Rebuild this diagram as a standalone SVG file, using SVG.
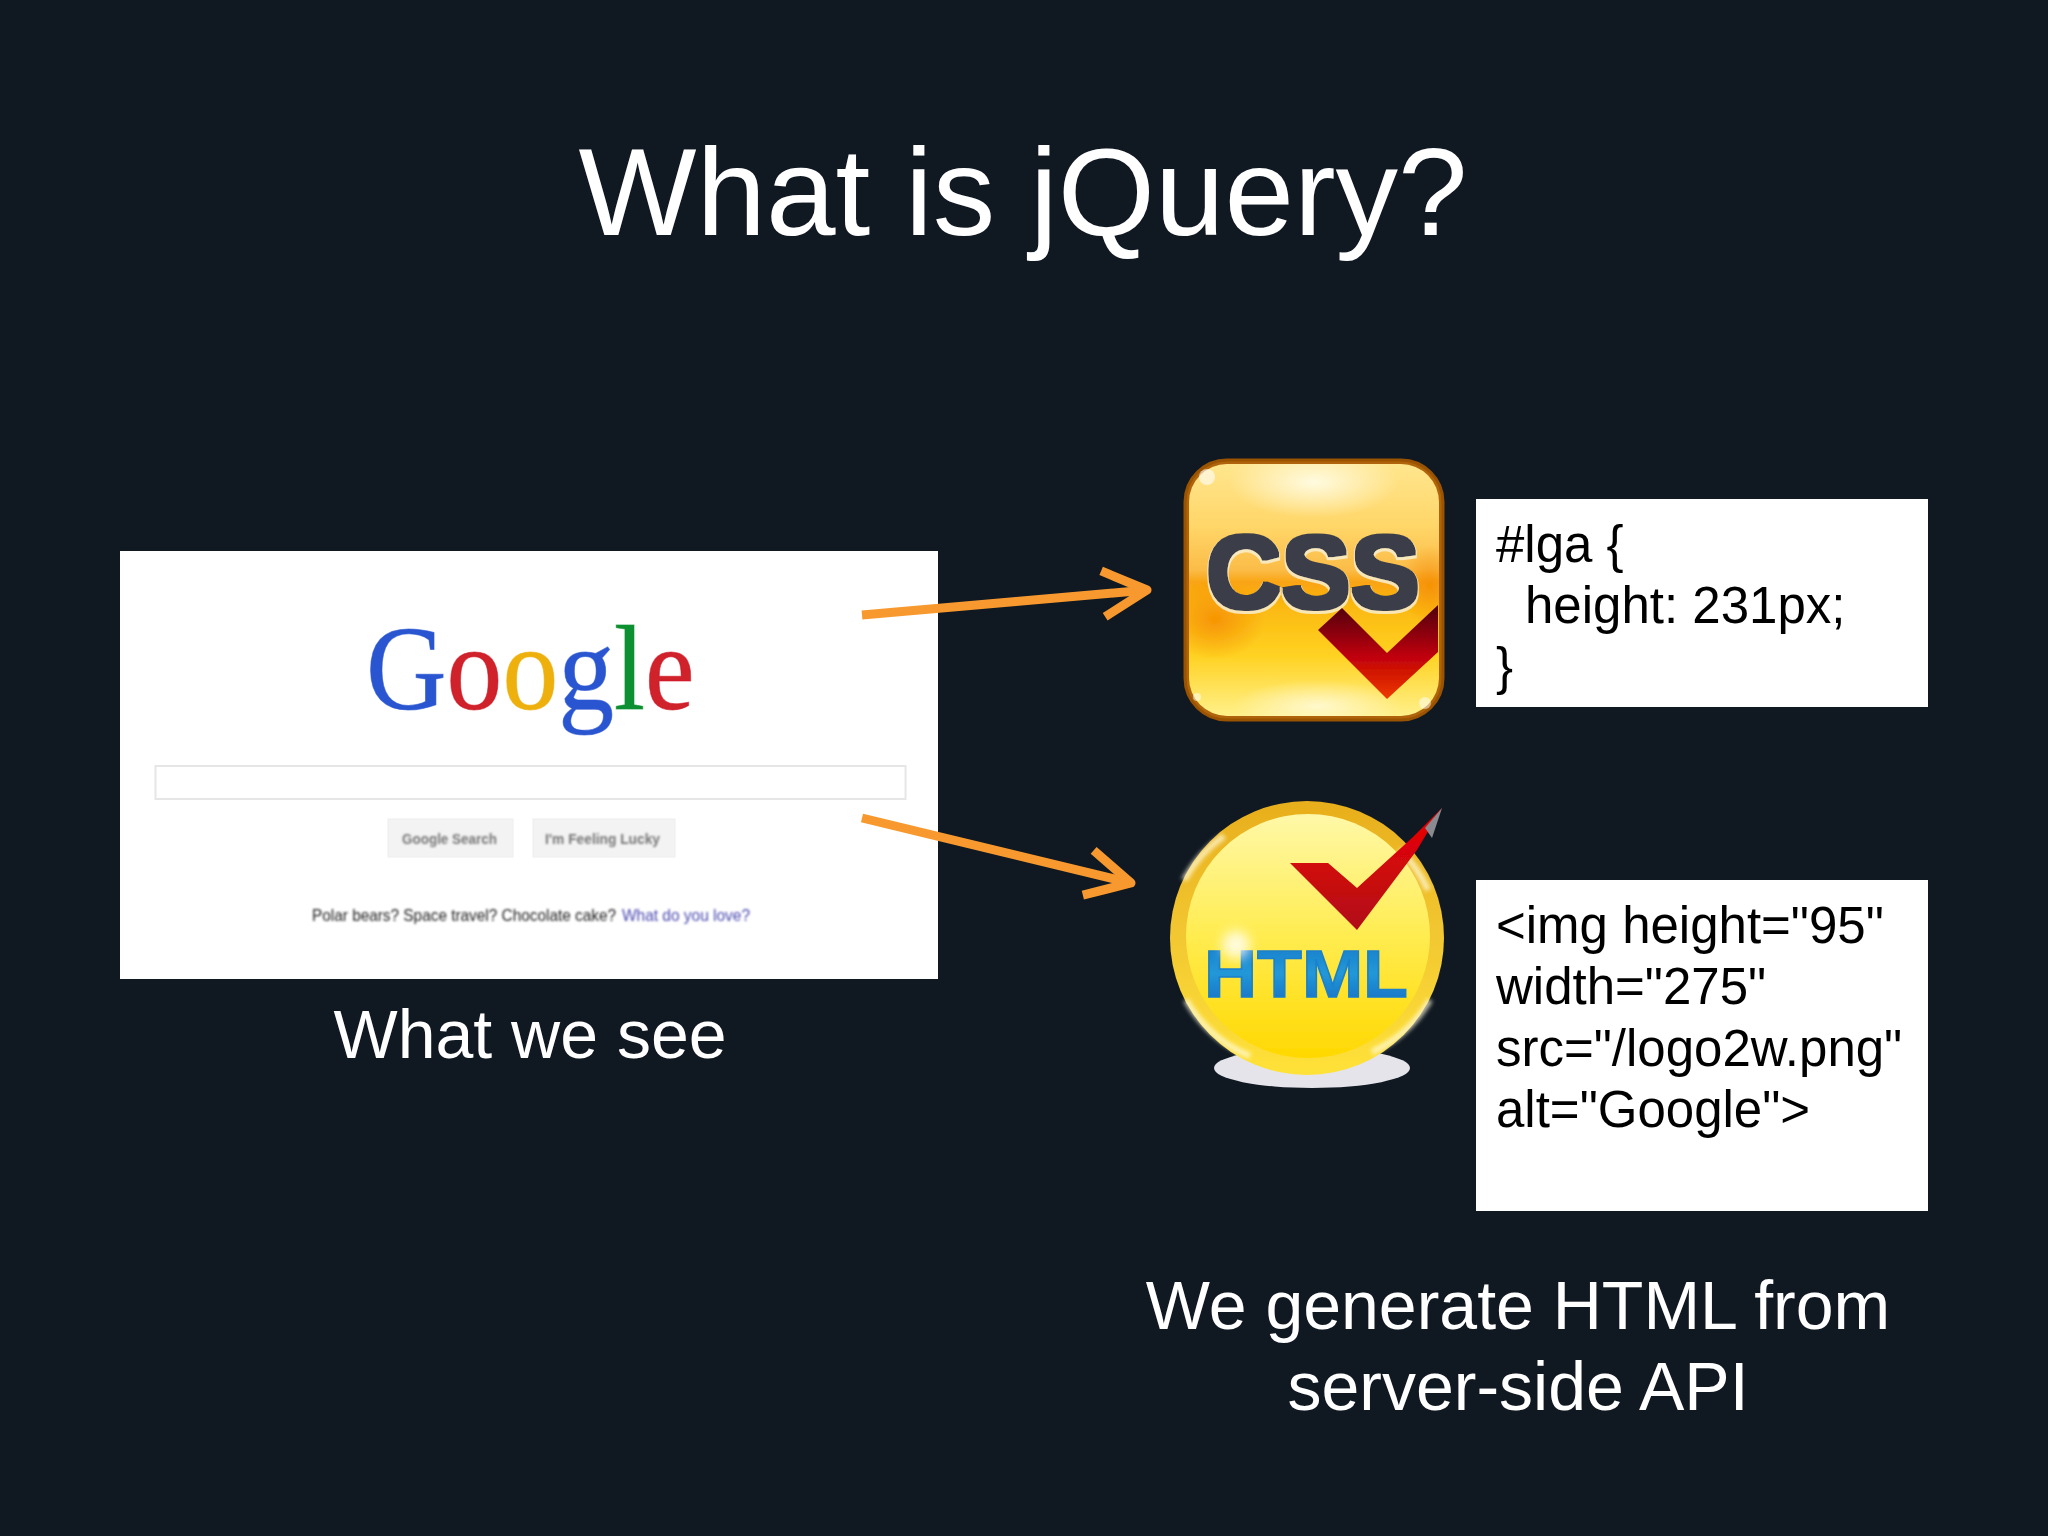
<svg xmlns="http://www.w3.org/2000/svg" width="2048" height="1536" viewBox="0 0 2048 1536">
<style>
text{font-family:"Liberation Sans",Arial,sans-serif}
.t{fill:#fff}
.big{font-size:68px;text-anchor:middle}
.code{font-size:51px;fill:#000}
.arrow{fill:none;stroke:#f7992e;stroke-width:9}
.btn{fill:#f3f3f3;stroke:#eeeeee}
.btnt{font-size:15px;fill:#777;font-weight:bold}
</style>
<defs>
<filter id="b1" x="-5%" y="-5%" width="110%" height="110%"><feGaussianBlur stdDeviation="0.7"/></filter>
<filter id="b2" x="-5%" y="-20%" width="110%" height="140%"><feGaussianBlur stdDeviation="1"/></filter>
<filter id="b3" x="-20%" y="-20%" width="140%" height="140%"><feGaussianBlur stdDeviation="2"/></filter>
<filter id="b6" x="-100%" y="-100%" width="300%" height="300%"><feGaussianBlur stdDeviation="6"/></filter>
<filter id="cssFx" x="-5%" y="-10%" width="110%" height="120%">
<feMorphology in="SourceAlpha" operator="dilate" radius="2.5" result="w"/>
<feOffset in="w" dy="1.500" result="wo"/>
<feFlood flood-color="#f8efd0" flood-opacity=".85"/><feComposite in2="wo" operator="in" result="pale"/>
<feMorphology in="SourceGraphic" operator="dilate" radius="1.6" result="heavy"/>
<feMerge><feMergeNode in="pale"/><feMergeNode in="heavy"/></feMerge>
</filter>
<clipPath id="cssClip"><rect x="1189" y="464" width="250" height="252" rx="38"/></clipPath>
<marker id="head" markerUnits="userSpaceOnUse" markerWidth="80" markerHeight="80" refX="58" refY="40" orient="auto" viewBox="0 0 80 80"><path d="M14 17 L58 40 L14 63" fill="none" stroke="#f7992e" stroke-width="9" stroke-linejoin="round"/></marker>
<linearGradient id="cssBase" x1="0" y1="0" x2="0" y2="1">
<stop offset="0" stop-color="#ffe68e"/><stop offset="0.25" stop-color="#ffd668"/><stop offset="0.42" stop-color="#fbbc48"/><stop offset="0.47" stop-color="#f9a412"/><stop offset="0.56" stop-color="#fbb810"/><stop offset="0.76" stop-color="#ffd222"/><stop offset="1" stop-color="#fff08a"/>
</linearGradient>
<radialGradient id="glowTop" cx="0.5" cy="0.5" r="0.5"><stop offset="0" stop-color="#fffbe0"/><stop offset="1" stop-color="#fffbe0" stop-opacity="0"/></radialGradient>
<radialGradient id="glowOr" cx="0.5" cy="0.5" r="0.5"><stop offset="0" stop-color="#f58a00"/><stop offset="1" stop-color="#f58a00" stop-opacity="0"/></radialGradient>
<linearGradient id="chk" x1="0" y1="0" x2="0" y2="1"><stop offset="0" stop-color="#4e0012"/><stop offset="0.55" stop-color="#c00008"/><stop offset="1" stop-color="#ee3a00"/></linearGradient>
<linearGradient id="ball" x1="0" y1="0" x2="0" y2="1"><stop offset="0" stop-color="#fff8a8"/><stop offset="0.5" stop-color="#ffec50"/><stop offset="1" stop-color="#ffd800"/></linearGradient>
<linearGradient id="rim" x1="0" y1="0" x2="0" y2="1"><stop offset="0" stop-color="#e8ae1c"/><stop offset="0.5" stop-color="#f2c832"/><stop offset="1" stop-color="#ffe238"/></linearGradient>
<linearGradient id="chk2" x1="0" y1="0" x2="0" y2="1"><stop offset="0" stop-color="#ee0000"/><stop offset="1" stop-color="#b01018"/></linearGradient>
<linearGradient id="htmlT" x1="0" y1="0" x2="0" y2="1"><stop offset="0" stop-color="#1878c8"/><stop offset="0.5" stop-color="#2298d8"/><stop offset="1" stop-color="#1468c0"/></linearGradient>
</defs>
<rect width="2048" height="1536" fill="#101822"/>
<g id="title"><text class="t" x="1023" y="235" font-size="125" text-anchor="middle">What is jQuery?</text></g>

<g id="google-page">
<rect x="120" y="551" width="818" height="428" fill="#fff"/>
<g filter="url(#b1)">
<text transform="translate(366,709) scale(.93,1)" font-size="120" style="font-family:'Liberation Serif',serif" stroke-width="1" stroke-opacity=".6"><tspan fill="#2a55d0" stroke="#2a55d0">G</tspan><tspan fill="#d0202c" stroke="#d0202c">o</tspan><tspan fill="#eeb010" stroke="#eeb010">o</tspan><tspan fill="#2a55d0" stroke="#2a55d0">g</tspan><tspan fill="#109030" stroke="#109030">l</tspan><tspan fill="#d0202c" stroke="#d0202c">e</tspan></text>
<rect x="155.500" y="766" width="750" height="33" fill="#fff" stroke="#e6e6e6" stroke-width="2"/>
<rect class="btn" x="388" y="819" width="125" height="38"/>
<rect class="btn" x="533" y="819" width="142" height="38"/>
</g>
<g filter="url(#b2)">
<text class="btnt" x="402" y="844" textLength="95" lengthAdjust="spacingAndGlyphs">Google Search</text>
<text class="btnt" x="545" y="844" textLength="115" lengthAdjust="spacingAndGlyphs">I'm Feeling Lucky</text>
<text x="312" y="921" font-size="16.500" fill="#222" textLength="304" lengthAdjust="spacingAndGlyphs">Polar bears? Space travel? Chocolate cake?</text>
<text x="622" y="921" font-size="16.500" fill="#4a48b0" textLength="128" lengthAdjust="spacingAndGlyphs">What do you love?</text>
</g>
</g>
<g id="caption-see"><text class="t big" x="530" y="1058">What we see</text></g>

<g id="css-icon">
<g filter="url(#b1)">
<rect x="1185" y="460" width="258" height="260" rx="42" fill="#b06408" stroke="#9a5200" stroke-width="3"/>
<rect x="1189" y="464" width="250" height="252" rx="38" fill="url(#cssBase)"/>
<g clip-path="url(#cssClip)">
<ellipse cx="1314" cy="482" rx="85" ry="36" fill="url(#glowTop)"/>
<ellipse cx="1318" cy="706" rx="85" ry="26" fill="url(#glowTop)" opacity=".8"/>
<ellipse cx="1215" cy="620" rx="50" ry="40" fill="url(#glowOr)" opacity=".8"/>
<ellipse cx="1430" cy="585" rx="30" ry="40" fill="url(#glowOr)" opacity=".7"/>
</g>
<circle cx="1207" cy="477" r="8" fill="#fff" opacity=".6"/>
<circle cx="1197" cy="697" r="4" fill="#fff" opacity=".5"/>
<circle cx="1425" cy="703" r="6" fill="#fff" opacity=".5"/>
<text x="1206" y="608" font-size="103" font-weight="bold" fill="#3a3d48" filter="url(#cssFx)" textLength="214" lengthAdjust="spacingAndGlyphs">CSS</text>
<polygon points="1318,630 1342,608 1387,653 1438,605 1438,652 1387,699" fill="url(#chk)"/>
</g>
</g>
<g id="html-icon">
<g filter="url(#b1)">
<ellipse cx="1312" cy="1068" rx="98" ry="20" fill="#e4e4ea"/>
<circle cx="1307" cy="938" r="137" fill="url(#rim)"/>
<circle cx="1308" cy="936" r="122" fill="url(#ball)"/>
<g fill="none" stroke="#fffce0" stroke-width="6" opacity=".75" filter="url(#b3)">
<path d="M1186 1000 A131 131 0 0 0 1250 1056"/>
<path d="M1372 1052 A131 131 0 0 0 1430 1000"/>
<path d="M1184 880 A131 131 0 0 1 1224 836"/>
<path d="M1400 850 A131 131 0 0 1 1428 890"/>
</g>
<polygon points="1290,863 1328,863 1357,888 1413,837 1442,808 1417,850 1357,930" fill="url(#chk2)"/>
<polygon points="1425,828 1442,808 1432,838" fill="#8a8a90"/>
<text x="1204" y="997" font-size="67" font-weight="bold" fill="url(#htmlT)" stroke="#1a80cc" stroke-width="1.500" textLength="204" lengthAdjust="spacingAndGlyphs">HTML</text>
<circle cx="1236" cy="945" r="14" fill="#fff" opacity=".8" filter="url(#b6)"/>
</g>
</g>

<g id="css-code">
<rect x="1476" y="499" width="452" height="208" fill="#fff"/>
<text class="code" x="1496" y="562">#lga {</text>
<text class="code" x="1525" y="623">height: 231px;</text>
<text class="code" x="1496" y="684">}</text>
</g>
<g id="html-code">
<rect x="1476" y="880" width="452" height="331" fill="#fff"/>
<text class="code" x="1496" y="943">&lt;img height="95"</text>
<text class="code" x="1496" y="1004">width="275"</text>
<text class="code" x="1496" y="1066">src="/logo2w.png"</text>
<text class="code" x="1496" y="1127">alt="Google"&gt;</text>
</g>
<g id="caption-generate">
<text class="t big" x="1518" y="1329">We generate HTML from</text>
<text class="t big" x="1518" y="1410">server-side API</text>
</g>
<g id="connectors">
<line class="arrow" x1="862" y1="615" x2="1147" y2="590" marker-end="url(#head)"/>
<line class="arrow" x1="862" y1="818" x2="1131" y2="883" marker-end="url(#head)"/>
</g>
</svg>
